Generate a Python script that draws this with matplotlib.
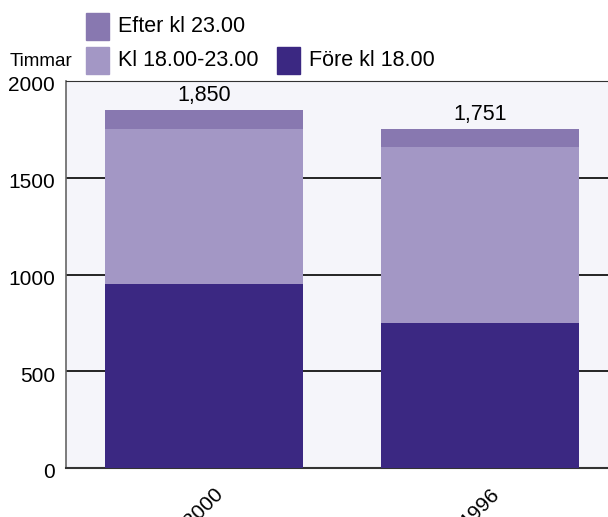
import matplotlib.pyplot as plt
import matplotlib.transforms as mtransforms
from matplotlib.patches import Rectangle

plt.rcParams['font.family'] = ['Liberation Sans', 'DejaVu Sans']

# --------- data ----------
years = ['2000', '1996']
fore_18 = [950, 750]
kl_18_23 = [800, 910]
efter_23 = [100, 91]
totals = ['1,850', '1,751']

c_fore = '#3b2882'
c_kl = '#a397c5'
c_efter = '#8878b0'

fig = plt.figure(figsize=(6.08, 5.17), dpi=100)
W, H = 608, 517
ax = fig.add_axes([66 / W, 1 - 468 / H, (618 - 66) / W, (468 - 81) / H])
ax.set_facecolor('#f5f5fa')

x = list(range(len(years)))
width = 0.72
bottom2 = [a + b for a, b in zip(fore_18, kl_18_23)]
top = [a + b for a, b in zip(bottom2, efter_23)]

ax.bar(x, fore_18, width, color=c_fore, zorder=3)
ax.bar(x, kl_18_23, width, bottom=fore_18, color=c_kl, zorder=3)
ax.bar(x, efter_23, width, bottom=bottom2, color=c_efter, zorder=3)

for xi, t, lab in zip(x, top, totals):
    ax.annotate(lab, (xi, t), xytext=(0, 3), textcoords='offset points',
                ha='center', va='bottom', fontsize=15.5)

ax.set_xlim(-0.5, 1.5)
ax.set_ylim(0, 2000)
ax.set_yticks([0, 500, 1000, 1500, 2000])
ax.tick_params(axis='y', length=0, labelsize=15, pad=8)
ax.tick_params(axis='x', length=0, labelsize=15, pad=12)
ax.set_xticks(x)
ax.set_xticklabels(years, rotation=45, ha='center', va='top')
# nudge y labels down a little, like the reference
shift = mtransforms.ScaledTranslation(0, -3 / 100, fig.dpi_scale_trans)
for lbl in ax.get_yticklabels():
    lbl.set_transform(lbl.get_transform() + shift)
ax.yaxis.grid(True, color='black', linewidth=1.2, zorder=1)
ax.set_axisbelow(True)

ax.spines['right'].set_visible(False)
ax.spines['top'].set_color('#333333')
ax.spines['left'].set_color('#666666')
ax.spines['bottom'].set_color('#333333')
ax.spines['left'].set_linewidth(1.2)
ax.spines['bottom'].set_linewidth(1.5)

# --------- legend (manual layout) ----------
def leg(px, py, color, label):
    fig.add_artist(Rectangle((px / W, 1 - (py + 27) / H), 23 / W, 27 / H,
                             color=color, transform=fig.transFigure))
    fig.text((px + 32) / W, 1 - (py + 14) / H, label, fontsize=15.5,
             va='center', ha='left')

leg(86, 13, c_efter, 'Efter kl 23.00')
leg(86, 47, c_kl, 'Kl 18.00-23.00')
leg(277, 47, c_fore, 'Före kl 18.00')
fig.text(10 / W, 1 - 61 / H, 'Timmar', fontsize=13.5, va='center', ha='left')

plt.savefig('out.png', dpi=100)
